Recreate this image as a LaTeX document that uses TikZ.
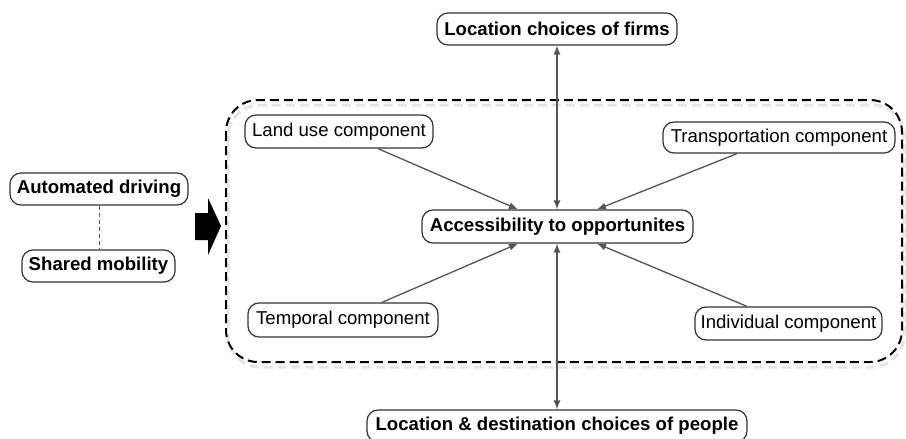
\documentclass[tikz,border=0pt]{standalone}
\usepackage{fontspec}
\setmainfont{Liberation Sans}
\usetikzlibrary{arrows.meta,calc}
\definecolor{boxgray}{HTML}{333333}
\definecolor{linegray}{HTML}{555555}
\begin{document}
\begin{tikzpicture}[x=1pt,y=-1pt,
  box/.style={draw=boxgray, line width=1.2pt, rounded corners=11pt, inner sep=0pt,
    font=\fontsize{18.6}{20}\selectfont, text=black},
  boldbox/.style={box, font=\fontsize{18.6}{20}\selectfont\bfseries},
  conn/.style={draw=linegray, line width=1.3pt, -{Latex[length=9pt,width=7pt]}},
  biconn/.style={draw=linegray, line width=1.3pt, {Latex[length=9pt,width=7pt]}-{Latex[length=9pt,width=7pt]}},
  frame/.style={dash pattern=on 9pt off 5pt, line width=2pt, rounded corners=32pt},
  frameshadow/.style={dash pattern=on 9pt off 5pt, line width=3pt, rounded corners=32pt, draw=gray!20},
]
\useasboundingbox (0,0) rectangle (906,439);
\fill[white] (0,0) rectangle (906,439);

% dashed container with soft shadow
\draw[frameshadow] (228,105) rectangle (904,367);
\draw[frame] (226,100) rectangle (902,362);

% nodes
\node[boldbox, minimum width=240pt, minimum height=32pt] (firms) at (557,29) {Location choices of firms};
\node[box, minimum width=188pt, minimum height=33pt] (land) at (339,131.5) {Land use component};
\node[box, minimum width=232pt, minimum height=31pt] (transp) at (779,137.5) {Transportation component};
\node[boldbox, minimum width=271pt, minimum height=33pt] (access) at (557.5,226.5) {Accessibility to opportunites};
\node[box, minimum width=190pt, minimum height=34pt] (temporal) at (343,320) {Temporal component};
\node[box, minimum width=187pt, minimum height=33pt] (indiv) at (788.5,323.5) {Individual component};
\node[boldbox, minimum width=380pt, minimum height=32pt] (people) at (557,426) {Location \& destination choices of people};
\node[boldbox, minimum width=178pt, minimum height=32pt] (auto) at (99,189) {Automated driving};
\node[boldbox, minimum width=153pt, minimum height=32pt] (shared) at (98.5,266) {Shared mobility};

% connectors
\draw[biconn] (firms.south) -- (firms.south |- access.north);
\draw[biconn] (access.south -| people.north) -- (people.north);
\draw[conn] ($(land.south)+(39,0)$) -- ($(access.north)+(-39.5,0)$);
\draw[conn] ($(transp.south)+(-42,0)$) -- ($(access.north)+(39.5,0)$);
\draw[conn] ($(temporal.north)+(39,0)$) -- ($(access.south)+(-39.5,0)$);
\draw[conn] ($(indiv.north)+(-41.5,0)$) -- ($(access.south)+(39.5,0)$);
\draw[linegray, line width=1pt, dash pattern=on 4pt off 3pt] (auto.south) -- (auto.south |- shared.north);

% block arrow
\fill[black] (195,213) -- (208,213) -- (208,198) -- (221,226) -- (208,255) -- (208,240) -- (195,240) -- cycle;
\end{tikzpicture}
\end{document}
